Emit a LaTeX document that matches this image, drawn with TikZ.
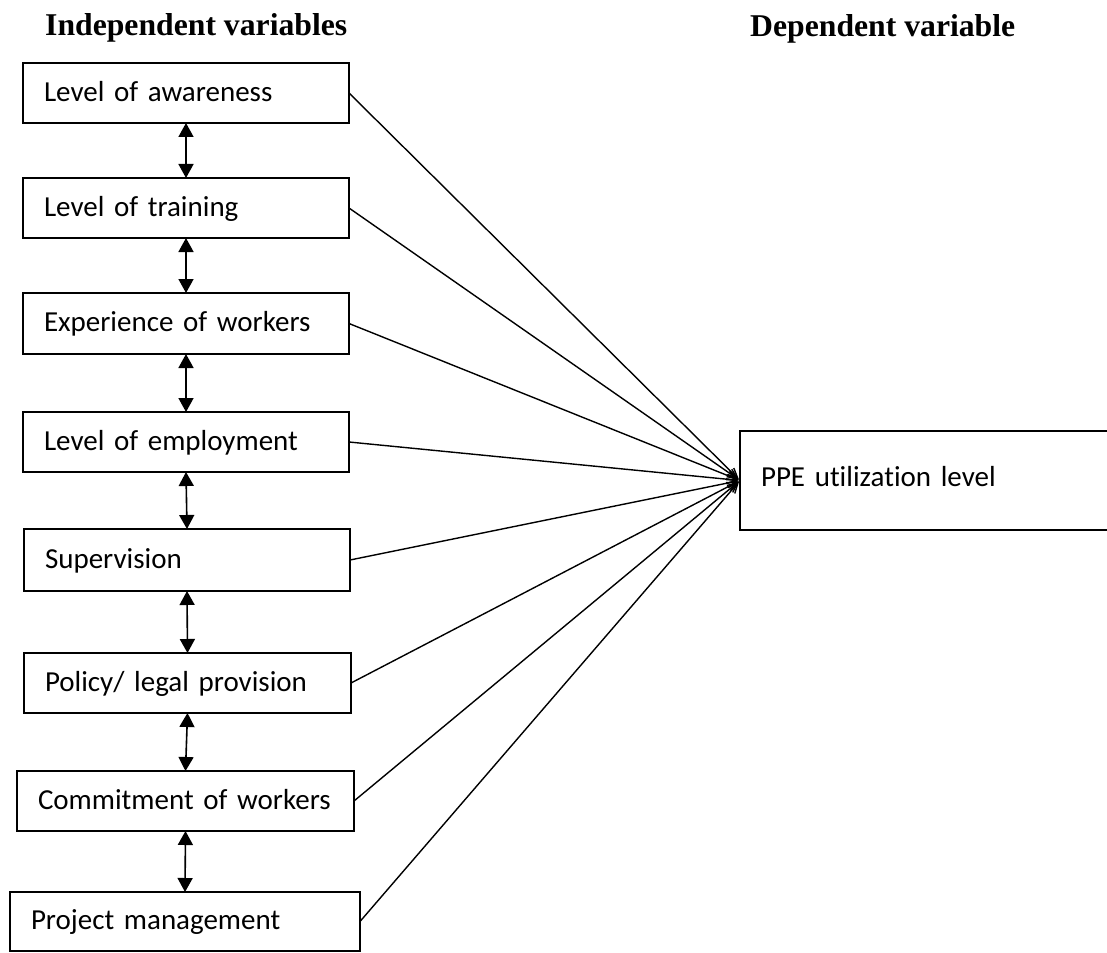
\documentclass[tikz,border=0pt]{standalone}
\usepackage{fontspec}
\setmainfont{Liberation Serif}
\newfontfamily\carlito[Ligatures=NoCommon]{Carlito}
\newcommand\myboxfont{\carlito\fontsize{29}{34}\selectfont\spaceskip=0.2em\relax\hyphenpenalty=10000\relax}
\usetikzlibrary{arrows.meta}
\begin{document}
\begin{tikzpicture}[x=1pt,y=-1pt,
  ivbox/.style={draw, line width=1.5pt, inner xsep=21pt, inner ysep=0pt, outer sep=0pt,
    align=left, text height=22.4pt, text depth=5.6pt,
    font=\myboxfont, anchor=north west},
  head/.style={anchor=base west, inner sep=0pt, font=\bfseries\fontsize{31.7}{38}\selectfont},
  dbl/.style={line width=1.6pt, {Triangle[length=14pt,width=15pt]}-{Triangle[length=14pt,width=15pt]}},
  conn/.style={line width=1.4pt, -{Straight Barb[length=10pt,width=9pt]}, shorten >=1.5pt}]
\useasboundingbox (0,0) rectangle (1107,952);
\node[head] (hi) at (45,36) {Independent variables};
\node[head] (hd) at (750,37) {Dependent variable};

\node[ivbox, text width=284pt, minimum height=60pt] (b1) at (23,63) {Level of awareness};
\node[ivbox, text width=284pt, minimum height=60pt] (b2) at (23,178) {Level of training};
\node[ivbox, text width=284pt, minimum height=61pt] (b3) at (23,293) {Experience of workers};
\node[ivbox, text width=284pt, minimum height=60pt] (b4) at (23,412) {Level of employment};
\node[ivbox, text width=284pt, minimum height=62pt] (b5) at (24,529) {Supervision};
\node[ivbox, text width=285pt, minimum height=60pt] (b6) at (24,653) {Policy/ legal provision};
\node[ivbox, text width=295pt, minimum height=60pt] (b7) at (17,771) {Commitment of workers};
\node[ivbox, text width=308pt, minimum height=59pt] (b8) at (10,892) {Project management};

\node[ivbox, text width=380pt, minimum height=99pt, text height=19.6pt, text depth=8.4pt] (ppe) at (740,431) {PPE utilization level};

\draw[dbl] (b1.south) -- (b2.north);
\draw[dbl] (b2.south) -- (b3.north);
\draw[dbl] (b3.south) -- (b4.north);
\draw[dbl] (b4.south) -- (b5.north);
\draw[dbl] (b5.south) -- (b6.north);
\draw[dbl] (b6.south) -- (b7.north);
\draw[dbl] (b7.south) -- (b8.north);

\foreach \b in {b1,b2,b3,b4,b5,b6,b7,b8}
  \draw[conn] (\b.east) -- (ppe.west);
\end{tikzpicture}
\end{document}
